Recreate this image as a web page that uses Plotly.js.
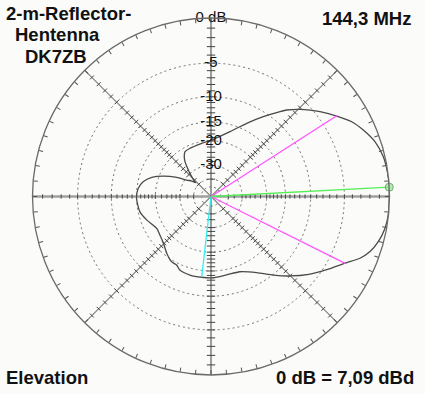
<!DOCTYPE html>
<html>
<head>
<meta charset="utf-8">
<script src="https://cdn.plot.ly/plotly-3.0.1.min.js"></script>
<style>html,body{margin:0;padding:0;background:#fbfbf9;}#chart{width:425px;height:394px;}</style>
</head>
<body>
<div id="chart"></div>
<script>
// Elevation pattern (angle in degrees, counterclockwise from horizon; gain in dB relative to max)
const angleDeg = [0,3,8,13,18.5,23.6,28,32.6,37.9,41.1,44.4,48.8,50.9,56.8,64,73.7,87.7,99.9,113.5,120.1,124,126.8,130,133,136,138,141,146,150.8,156.8,162,167.7,173.6,181.4,192,200,210.4,217,224.5,232,239,243.4,247,255,263.4,271.6,281.3,291,301,308.4,314.8,321.5,327.7,333.6,337.5,340.9,344.9,349.6,354,360];
const gainDb = [-0.02,0,-0.04,-0.16,-0.55,-1.23,-1.95,-3.07,-4.4,-5.25,-6.17,-7.55,-8.41,-10.75,-13.47,-16.68,-19.52,-20.52,-20.98,-21.23,-22.6,-24.3,-27.5,-30.5,-34,-37,-34,-31,-26,-21.2,-18.1,-16.2,-15.3,-15.0,-15.4,-16.45,-17.9,-17.6,-16.9,-15.6,-14.6,-14.5,-13.8,-13.5,-13.5,-13.5,-13.8,-13.65,-12.0,-9.9,-8.0,-6.1,-4.55,-3.0,-1.74,-1.01,-0.51,-0.16,-0.03,-0.02];

// Marker lines: main lobe direction, half-power directions, back-lobe max
const mainLobeAngle = [3];
const mainLobeDb = [0];
const halfPowerAngles = [32.7, 333.5];
const halfPowerDb = [-3, -3];
const backLobeAngle = [263.4];
const backLobeDb = [-13.5];

// Grid circles and labels
const gridDb = [-5,-10,-15,-20,-30,-40,-50];
const labelDb = [0,-5,-10,-15,-20,-30];
const labelText = ['0 dB','-5','-10','-15','-20','-30'];
const tickDb = [-1,-2,-3,-4,-5,-6,-7,-8,-9,-10,-11,-12,-13,-14,-15,-16,-17,-18,-19,-20,-22,-24,-26,-28,-30,-35,-40];
const spokeAngles = [0,45,90,135,180,225,270,315];

// ARRL log scale: 0.89 per 2 dB
const rOf = db => Math.pow(0.89, -db / 2);

const traces = [];

// spokes
traces.push({type:'scatterpolar', mode:'lines', r:[1,0,1], theta:[45,45,225], line:{color:'#808080', width:1.1}, hoverinfo:'skip'});
traces.push({type:'scatterpolar', mode:'lines', r:[1,0,1], theta:[135,135,315], line:{color:'#808080', width:1.1}, hoverinfo:'skip'});
traces.push({type:'scatterpolar', mode:'lines', r:[1,0,1], theta:[0,0,180], line:{color:'#a0a0a0', width:2.6}, hoverinfo:'skip'});
traces.push({type:'scatterpolar', mode:'lines', r:[1,0,1], theta:[90,90,270], line:{color:'#6a6a6a', width:1.3}, hoverinfo:'skip'});

// spoke tick marks
spokeAngles.forEach(a => {
  const rr = tickDb.map(rOf);
  traces.push({type:'scatterpolar', mode:'markers', r:rr, theta:rr.map(() => a),
    marker:{symbol:'line-ns', size:(a % 180 === 0) ? 3 : (a % 90 === 0 ? 6 : 4), angle:-a, color:'#444', line:{color:'#444', width:1}},
    hoverinfo:'skip'});
});

// pattern
traces.push({type:'scatterpolar', mode:'lines', r:gainDb.map(rOf), theta:angleDeg,
  line:{color:'#4a4a4a', width:1.3, shape:'spline', smoothing:0.6}, hoverinfo:'skip'});

// coloured indicator lines
halfPowerAngles.forEach((a, i) => {
  traces.push({type:'scatterpolar', mode:'lines', r:[0, rOf(halfPowerDb[i])], theta:[a, a], line:{color:'#ff55ff', width:1.3}, hoverinfo:'skip'});
});
traces.push({type:'scatterpolar', mode:'lines', r:[0, rOf(backLobeDb[0])], theta:[backLobeAngle[0], backLobeAngle[0]], line:{color:'#33eeee', width:1.3}, hoverinfo:'skip'});
traces.push({type:'scatterpolar', mode:'lines+markers', r:[0, rOf(mainLobeDb[0])], theta:[mainLobeAngle[0], mainLobeAngle[0]],
  line:{color:'#55ee55', width:1.3},
  marker:{size:[0,8], color:'#99e099', line:{color:'#3a8a3a', width:1}}, hoverinfo:'skip'});

// radial labels
traces.push({type:'scatterpolar', mode:'text', r:labelDb.map(rOf), theta:labelDb.map(() => 90), text:labelText,
  textposition:'middle center', textfont:{family:'Liberation Sans, Arial, sans-serif', size:15, color:'#111'}, hoverinfo:'skip'});

const H = 394;
const ann = (text, x, ypix, xanchor) => ({text:'<b>'+text+'</b>', x:x/425, y:1 - ypix/H, xref:'paper', yref:'paper',
  xanchor:xanchor, yanchor:'middle', showarrow:false, font:{family:'Liberation Sans, Arial, sans-serif', size:18.5, color:'#111'}});

const layout = {
  width:425, height:394,
  margin:{l:0, r:0, t:0, b:0},
  paper_bgcolor:'#fbfbf9',
  showlegend:false,
  polar:{
    domain:{x:[32.5/425, 389.5/425], y:[19/394, 376/394]},
    bgcolor:'#fbfbf9',
    radialaxis:{range:[0,1], autorange:false, tickmode:'array', tickvals:gridDb.map(rOf), showticklabels:false, ticks:'',
      showgrid:true, gridcolor:'#707070', griddash:'2px,3px', gridwidth:1, showline:false},
    angularaxis:{tickmode:'linear', tick0:0, dtick:5, ticks:'inside', ticklen:4, tickcolor:'#555', tickwidth:1,
      showticklabels:false, showgrid:false, showline:true, linecolor:'#6a6a6a', linewidth:1.3}
  },
  annotations:[
    ann('2-m-Reflector-', 68, 14, 'center'),
    ann('Hentenna', 57.5, 35, 'center'),
    ann('DK7ZB', 56, 56.5, 'center'),
    ann('144,3 MHz', 413, 18.5, 'right'),
    ann('Elevation', 4, 377, 'left'),
    ann('0 dB = 7,09 dBd', 416, 377, 'right')
  ]
};

Plotly.newPlot('chart', traces, layout, {staticPlot:true, displayModeBar:false});
</script>
</body>
</html>
